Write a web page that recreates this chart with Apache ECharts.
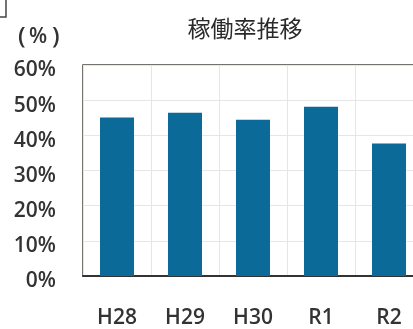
<!DOCTYPE html>
<html>
<head>
<meta charset="utf-8">
<script src="https://cdn.jsdelivr.net/npm/echarts@6/dist/echarts.min.js"></script>
<style>
html,body{margin:0;padding:0;background:#fff;overflow:hidden;}
#wrap{width:413px;height:329px;overflow:hidden;}
#chart{width:440px;height:329px;}
</style>
</head>
<body>
<div id="wrap"><div id="chart"></div></div>
<script>
// Fiscal years (Heisei 28 .. Reiwa 2) and operating rate in percent
const categories = ['H28', 'H29', 'H30', 'R1', 'R2'];
const rates = [45.1, 46.4, 44.4, 48.1, 37.7];
const yTicks = [0, 10, 20, 30, 40, 50, 60];
const unitLabel = ['(', '%', ')'];

const chart = echarts.init(document.getElementById('chart'));
const cjk = '"Noto Sans CJK JP", "Noto Sans", sans-serif';
const latin = '"Open Sans", "Noto Sans", sans-serif';
const textColor = '#333';

// unit label above the value axis, spaced out like a typeset "( % )"
const unitX = [18, 29, 52];
const unitGraphics = unitLabel.map((ch, i) => ({
  type: 'text',
  x: unitX[i],
  y: 37,
  style: {
    text: ch,
    font: '600 ' + (ch === '%' ? 21 : 24) + 'px ' + latin,
    fill: textColor,
    textVerticalAlign: 'middle'
  }
}));

chart.setOption({
  animation: false,
  backgroundColor: '#ffffff',
  title: {
    text: '稼働率推移',
    left: 240,
    textAlign: 'center',
    top: 12,
    textStyle: { fontFamily: cjk, fontSize: 23, fontWeight: 'normal', color: '#2a2a2a' }
  },
  graphic: unitGraphics.concat([
    {
      type: 'polyline',
      shape: { points: [[6, 0], [6, 17], [0, 17]] },
      style: { stroke: '#444', lineWidth: 1.5, fill: null }
    }
  ]),
  grid: {
    left: 83,
    top: 65,
    width: 340,
    height: 211,
    outerBoundsMode: 'none',
    show: true,
    borderColor: '#4a4540',
    borderWidth: 1.5,
    backgroundColor: 'transparent'
  },
  xAxis: {
    type: 'category',
    data: categories,
    axisLine: { show: true, lineStyle: { color: '#333', width: 2 } },
    axisTick: { show: false },
    splitLine: { show: true, interval: 0, lineStyle: { color: '#e6e6e6', width: 1 } },
    axisLabel: { margin: 32, fontFamily: latin, fontWeight: 600, fontSize: 21, color: textColor }
  },
  yAxis: {
    type: 'value',
    min: yTicks[0],
    max: yTicks[yTicks.length - 1],
    interval: 10,
    axisLine: { show: false },
    axisTick: { show: false },
    splitLine: { show: true, lineStyle: { color: '#e6e6e6', width: 1 } },
    axisLabel: {
      margin: 27,
      verticalAlign: 'top',
      lineHeight: 11,
      fontFamily: latin,
      fontWeight: 600,
      fontSize: 21,
      color: textColor,
      formatter: v => v + '%'
    }
  },
  series: [{
    type: 'bar',
    data: rates,
    barWidth: 34,
    itemStyle: { color: '#0b6a98' }
  }]
});
</script>
</body>
</html>
